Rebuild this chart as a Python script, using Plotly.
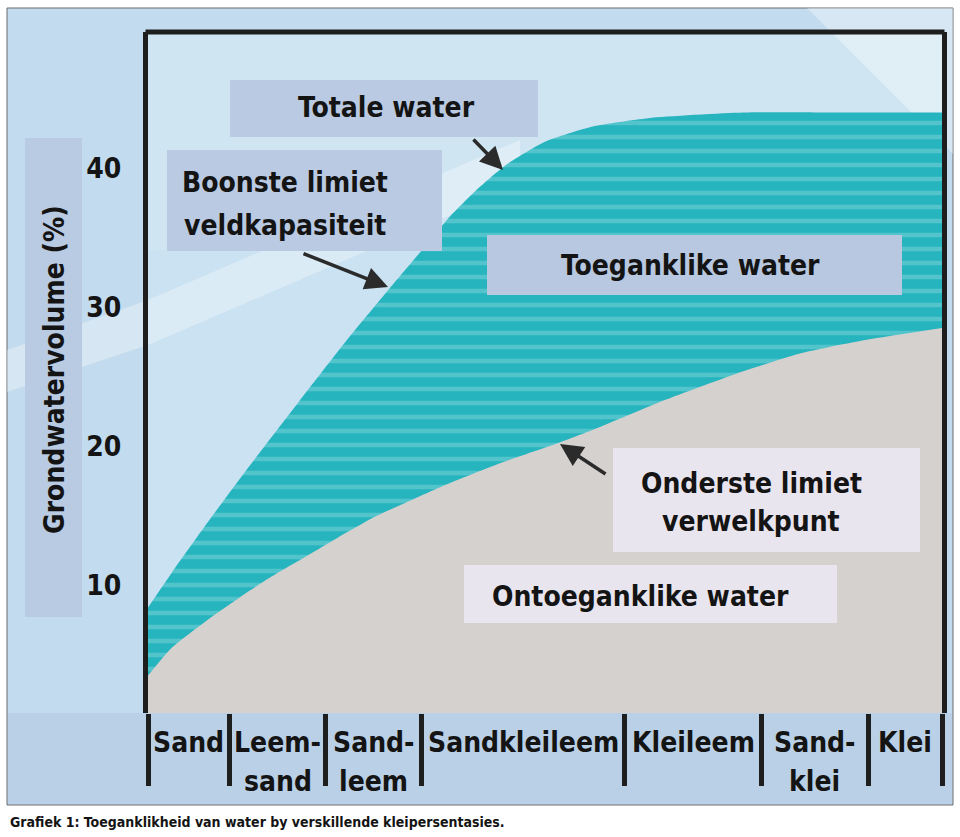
import plotly.graph_objects as go

# ---------------- data ----------------
categories = ["Sand", "Leem-<br>sand", "Sand-<br>leem", "Sandkleileem",
              "Kleileem", "Sand-<br>klei", "Klei"]
category_bounds = [0, 10.3, 22.4, 34.5, 60.0, 77.3, 90.7, 100]

# Onderste limiet (verwelkpunt) – top of the unavailable water
wilting_x = [0, 3, 7.5, 11.5, 15.5, 20, 24, 28.5, 32.5, 37, 44, 52, 57, 65, 74, 82, 90.5, 100]
wilting_y = [3.5, 5.5, 7.5, 9.1, 10.6, 12.1, 13.45, 14.9, 15.95, 17.1, 18.7, 20.3, 21.4, 23.3,
             25.2, 26.65, 27.65, 28.5]

# Boonste limiet (veldkapasiteit) – total water
field_x = [0, 3, 7.5, 11.5, 15.5, 19, 25, 30.5, 34.5, 38, 41.5, 45, 50, 56, 63, 75, 88, 100]
field_y = [8.4, 10.9, 14.5, 17.6, 20.6, 23.2, 27.6, 31.4, 34.1, 36.5, 38.5, 40.2, 41.9, 43.0,
           43.6, 44.0, 44.0, 44.0]

y_ticks = [10, 20, 30, 40]
y_title = "Grondwatervolume (%)"
caption = "Grafiek 1: Toeganklikheid van water by verskillende kleipersentasies."

label_total = "Totale water"
label_upper = "Boonste limiet<br>veldkapasiteit"
label_avail = "Toeganklike water"
label_lower = "Onderste limiet<br>verwelkpunt"
label_unavail = "Ontoeganklike water"

# ---------------- layout helpers (pixel -> paper) ----------------
W, H = 960, 837
L, R, T, B = 148, 18, 32, 124
PW, PH = W - L - R, H - T - B


def px(x):
    return (x - L) / PW


def py(y):
    return (H - B - y) / PH


FONT = "Liberation Sans Narrow, DejaVu Sans Condensed, Roboto Condensed, Arial Narrow, sans-serif"
TXT = "#141414"
FS = 28

fig = go.Figure()

fig.add_trace(go.Scatter(
    x=field_x, y=field_y, mode="lines",
    line=dict(width=0, shape="spline", smoothing=0.6, color="#26b4be"),
    fill="tozeroy", fillcolor="#26b4be",
    fillpattern=dict(shape="-", fgcolor="#82d3d9", bgcolor="#26b4be",
                     size=14, solidity=0.32),
    hoverinfo="skip", showlegend=False))

fig.add_trace(go.Scatter(
    x=wilting_x, y=wilting_y, mode="lines",
    line=dict(width=0, shape="spline", smoothing=0.6, color="#d5d1ce"),
    fill="tozeroy", fillcolor="#d5d1ce",
    hoverinfo="skip", showlegend=False))

shapes = []


def rect(x0, y0, x1, y1, color, layer="below", line=None):
    d = dict(type="rect", xref="paper", yref="paper",
             x0=px(x0), x1=px(x1), y0=py(y1), y1=py(y0),
             fillcolor=color, layer=layer, line=dict(width=0))
    if line:
        d["line"] = line
    shapes.append(d)


def poly(points, color, layer="below"):
    path = "M " + " L ".join(f"{px(a):.5f},{py(b):.5f}" for a, b in points) + " Z"
    shapes.append(dict(type="path", xref="paper", yref="paper", path=path,
                       fillcolor=color, layer=layer, line=dict(width=0)))


# outer frame
rect(7, 8, 953, 805, "#c2dbee", line=dict(color="#6b6b6b", width=1))
# plot background
rect(148, 32, 942, 713, "#cae2f1")
# lighter top region of plot
rect(148, 32, 942, 250, "rgba(255,255,255,0.12)")
# light diagonal streak
poly([(7, 350), (148, 300), (520, 140), (520, 185), (148, 345), (7, 392)],
     "rgba(255,255,255,0.33)")
# lighter top-right corner
poly([(807, 8), (953, 8), (953, 154)], "rgba(255,255,255,0.35)")
# category strip
rect(8, 713, 952, 804, "#b9d0e7")
# y-title box
rect(25, 138, 82, 617, "#b8cbe3")
# top frame line
shapes.append(dict(type="line", xref="paper", yref="paper",
                   x0=px(145.5), x1=px(944.5), y0=1, y1=1, layer="above",
                   line=dict(color="#1e1e1e", width=5)))

# label boxes (above traces)
rect(230, 80, 538, 137, "#b9cae2", layer="above")
rect(167, 150, 442, 251, "#b9cae2", layer="above")
rect(487, 235, 902, 295, "#b7c8e0", layer="above")
rect(613, 448, 920, 552, "#e8e5ee", layer="above")
rect(464, 565, 837, 623, "#e8e5ee", layer="above")

fig.update_layout(shapes=shapes)

ann_font = dict(family=FONT, size=FS, color=TXT, weight="bold")
annotations = []


def text_lines(text, cx, cy_first, spacing):
    for i, line in enumerate(text.split("<br>")):
        annotations.append(dict(xref="paper", yref="paper", x=px(cx), y=py(cy_first + i * spacing),
                                text=line, showarrow=False, font=ann_font,
                                xanchor="center", yanchor="middle"))


text_lines(label_total, 386, 108, 0)
text_lines(label_upper, 285, 182, 43)
text_lines(label_avail, 690, 265, 0)
text_lines(label_lower, 751, 483, 38)
text_lines(label_unavail, 640, 596, 0)

# arrows
arrows = [((503, 170), (472, 138)), ((388, 287), (302, 253)), ((560, 444), (607, 475))]
for (tx, ty), (sx, sy) in arrows:
    annotations.append(dict(xref="paper", yref="paper", x=px(tx), y=py(ty), text="",
                            showarrow=True, ax=sx - tx, ay=sy - ty,
                            arrowhead=2, arrowsize=1.3, arrowwidth=3.5,
                            arrowcolor="#2b2b2b", standoff=0, startstandoff=0))

# category labels inside the strip
centers = [(category_bounds[i] + category_bounds[i + 1]) / 2 for i in range(len(categories))]
for c, lab in zip(centers, categories):
    for i, line in enumerate(lab.split("<br>")):
        annotations.append(dict(xref="x", yref="paper", x=c, y=py(742 + 40 * i),
                                text=line, showarrow=False, font=ann_font,
                                xanchor="center", yanchor="middle"))

annotations.append(dict(xref="paper", yref="paper", x=px(54), y=py(370),
                        text=y_title, textangle=-90, showarrow=False,
                        font=ann_font, xanchor="center", yanchor="middle"))
annotations.append(dict(xref="paper", yref="paper", x=px(8), y=py(822),
                        text=caption, showarrow=False,
                        font=dict(family=FONT, size=14, color=TXT, weight="bold"),
                        xanchor="left", yanchor="middle"))
fig.update_layout(annotations=annotations)

fig.update_xaxes(range=[0, 100], showgrid=False, zeroline=False, showline=False,
                 showticklabels=False, automargin=False,
                 tickmode="array", tickvals=centers, ticks="",
                 minor=dict(tickmode="array", tickvals=category_bounds, ticks="outside",
                            ticklen=72, tickwidth=5, tickcolor="#1e1e1e", showgrid=False),
                 fixedrange=True)
fig.update_yaxes(range=[0.8, 49.8], showgrid=False, zeroline=False, automargin=False,
                 showline=True, mirror=True, linewidth=5, linecolor="#1e1e1e",
                 tickmode="array", tickvals=y_ticks,
                 ticks="outside", ticklen=16, tickcolor="rgba(0,0,0,0)",
                 tickfont=dict(family=FONT, size=FS, color=TXT, weight="bold"),
                 fixedrange=True)

fig.update_layout(width=W, height=H, margin=dict(l=L, r=R, t=T, b=B),
                  paper_bgcolor="white", plot_bgcolor="rgba(0,0,0,0)",
                  showlegend=False)

fig.write_html("out.html", config={"displayModeBar": False},
               post_script="document.body.style.margin='0px';document.body.style.padding='0px';")
